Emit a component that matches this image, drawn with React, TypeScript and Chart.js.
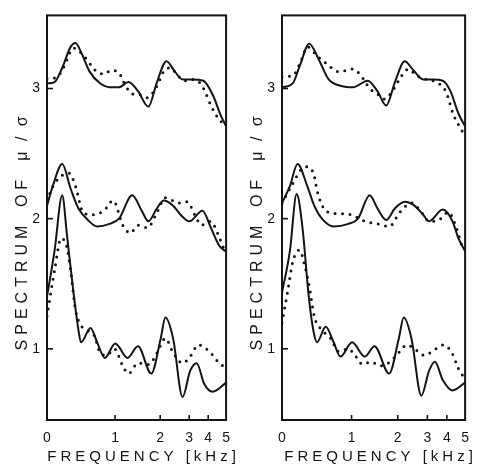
import React, { useEffect, useRef } from 'react';
import { Chart, registerables } from 'chart.js';

Chart.register(...registerables);

// x values are positions along the (warped) frequency axis, 0..100
const freqTickPositions = [0, 38, 63.2, 79.4, 90, 100];
const freqTickLabels = ['0', '1', '2', '3', '4', '5'];
const yTickValues = [1, 2, 3];
const xTitle = 'FREQUENCY [kHz]';
const yTitleParts = ['SPECTRUM', 'OF', 'μ / σ'];

type P = [number, number][];

// ---------- left panel ----------
const leftUpperSolid: P = [[0,3.04],[4.2,3.05],[8.5,3.16],[13.2,3.32],[15.9,3.35],[19,3.28],[23.8,3.13],[29.6,3.04],[34.9,3.01],[40.2,3.01],[45.5,3.05],[50.8,2.98],[56.6,2.86],[61.4,3.05],[66.7,3.21],[71.4,3.13],[75.7,3.07],[81,3.07],[87.3,3.06],[92.6,2.95],[96.8,2.8],[100,2.71]];
const leftUpperDotted: P = [[0,3.075],[5.8,3.09],[9.5,3.17],[14.8,3.31],[21.2,3.24],[27,3.14],[31.7,3.11],[36,3.14],[40.2,3.12],[43.9,3.02],[47.6,2.96],[52.9,2.95],[56.1,2.93],[61.4,3.02],[65.1,3.13],[68.8,3.16],[73,3.1],[77.2,3.06],[81,3.07],[85.2,3.045],[87.8,2.99],[91.5,2.87],[95.2,2.78],[99.5,2.71]];
const leftMiddleSolid: P = [[0,2.1],[3.2,2.25],[8.5,2.42],[13.2,2.23],[17.5,2.08],[22.8,1.99],[28,1.94],[34.9,1.96],[40.2,2.0],[47.6,2.18],[52.9,2.06],[56.6,1.98],[61.4,2.08],[65.1,2.14],[70.4,2.1],[74.6,2.03],[79.4,1.98],[86.8,2.06],[91.5,1.93],[95.8,1.8],[99.5,1.75]];
const leftMiddleDotted: P = [[0,2.14],[4.2,2.27],[12.2,2.35],[15.9,2.25],[20.1,2.05],[25.4,2.03],[31.7,2.06],[37,2.14],[42.3,1.95],[46.6,1.89],[50.8,1.95],[56.1,1.93],[60.8,2.03],[66.1,2.16],[74.1,2.12],[78.3,2.13],[82.5,2.03],[86.2,1.95],[91.5,1.98],[95.2,1.89],[98.4,1.78]];
const leftLowerSolid: P = [[0,1.4],[4.2,1.75],[8.5,2.18],[11.1,1.88],[14.8,1.43],[17.5,1.15],[19,1.05],[24.3,1.16],[28,1.05],[32.3,0.93],[38.1,1.04],[45,0.93],[50.8,1.02],[58.2,0.81],[63.5,1.08],[66.1,1.24],[70.4,1.08],[75.7,0.63],[79.9,0.83],[83.6,0.89],[87.8,0.73],[92.6,0.67],[100,0.74]];
const leftLowerDotted: P = [[0,1.25],[4.2,1.6],[7.9,1.85],[11.1,1.78],[13.2,1.6],[15.9,1.3],[19,1.18],[22.8,1.14],[26.5,1.1],[29.6,0.97],[33.3,0.95],[37.6,1.0],[42.3,0.87],[45.5,0.81],[50.8,0.89],[57.1,0.88],[61.4,0.97],[66.1,1.08],[70.4,0.97],[75.7,0.89],[79.4,0.93],[84.7,1.03],[88.9,1.0],[92.6,0.95],[96.8,0.88],[98.4,0.87]];

// ---------- right panel ----------
const rightUpperSolid: P = [[0,3.01],[5.9,3.04],[9.6,3.17],[14.9,3.345],[20.2,3.22],[25.5,3.07],[32.4,3.02],[38.8,3.01],[46.8,3.06],[52.1,2.98],[56.9,2.87],[61.7,3.05],[67,3.21],[71.8,3.14],[77.1,3.07],[82.4,3.07],[87.8,3.06],[92,2.98],[96.3,2.81],[100,2.71]];
const rightUpperDotted: P = [[0,3.09],[5.9,3.1],[10.6,3.22],[13.8,3.32],[19.1,3.25],[24.5,3.19],[30.9,3.13],[35.1,3.14],[38.8,3.15],[43.1,3.1],[47.9,3.0],[52.1,2.96],[55.9,2.92],[61.2,3.0],[65.4,3.1],[69.1,3.15],[73.4,3.1],[78.7,3.07],[84,3.05],[89.4,2.98],[93.6,2.8],[98.9,2.66]];
const rightMiddleSolid: P = [[0,2.12],[4.3,2.25],[8.5,2.42],[13.8,2.25],[17.6,2.1],[21.8,2.0],[28.2,1.94],[36.2,1.96],[41.5,2.0],[47.9,2.18],[52.1,2.08],[56.9,1.99],[61.7,2.08],[67,2.13],[72.3,2.1],[77.1,2.03],[80.3,1.98],[87.8,2.07],[93.1,1.98],[96.3,1.85],[100,1.75]];
const rightMiddleDotted: P = [[0,2.12],[5.9,2.27],[10.6,2.38],[13.8,2.4],[17.6,2.33],[19.1,2.22],[23.9,2.06],[29.3,2.04],[37.8,2.03],[45.2,1.98],[52.1,1.96],[58.5,1.94],[64.4,2.05],[70.7,2.12],[76.1,2.05],[80.3,1.98],[85.6,1.99],[91,2.05],[94.7,1.95],[98.9,1.76]];
const rightLowerSolid: P = [[0,1.43],[4.3,1.75],[8,2.19],[11.2,1.93],[14.4,1.43],[17,1.15],[19.1,1.05],[23.9,1.17],[28.2,1.05],[31.9,0.94],[38.3,1.05],[45.2,0.94],[50.5,1.02],[58.5,0.81],[63.8,1.08],[66.5,1.24],[70.7,1.08],[76.1,0.64],[80.3,0.83],[83.5,0.9],[87.8,0.76],[93.1,0.68],[100,0.74]];
const rightLowerDotted: P = [[0,1.2],[3.2,1.45],[5.9,1.67],[9.6,1.76],[12.2,1.65],[14.9,1.48],[17.6,1.25],[21.3,1.15],[26.6,1.08],[30.9,0.98],[36.2,1.0],[39.9,0.95],[44.1,0.88],[48.4,0.9],[53.7,0.87],[59,0.9],[64.4,0.98],[68.1,1.03],[73.4,0.99],[77.7,0.95],[83,0.99],[88.3,1.03],[93.1,0.96],[96.3,0.85],[98.9,0.79]];

const INK = '#141414';
const FONT = '"Liberation Sans", Arial, Helvetica, sans-serif';

function solid(d: P) {
  return {
    data: d.map(([x, y]) => ({ x, y })),
    borderColor: INK,
    borderWidth: 2,
    pointRadius: 0,
    fill: false,
    cubicInterpolationMode: 'monotone' as const,
  };
}
function dotted(d: P) {
  return {
    data: d.map(([x, y]) => ({ x, y })),
    borderColor: INK,
    borderWidth: 3,
    borderDash: [0, 7.5],
    borderCapStyle: 'round' as const,
    pointRadius: 0,
    fill: false,
    cubicInterpolationMode: 'monotone' as const,
  };
}

const decorPlugin = {
  id: 'decor',
  afterDraw(chart: any) {
    const { ctx, chartArea: a, scales } = chart;
    ctx.save();
    ctx.strokeStyle = INK;
    ctx.lineWidth = 2;
    ctx.strokeRect(a.left, a.top, a.right - a.left, a.bottom - a.top);
    ctx.lineWidth = 1.6;
    for (const p of freqTickPositions.slice(1, -1)) {
      const x = scales.x.getPixelForValue(p);
      ctx.beginPath();
      ctx.moveTo(x, a.bottom);
      ctx.lineTo(x, a.bottom - 5);
      ctx.stroke();
    }
    for (const v of yTickValues) {
      const y = scales.y.getPixelForValue(v);
      ctx.beginPath();
      ctx.moveTo(a.left, y);
      ctx.lineTo(a.left + 6, y);
      ctx.stroke();
    }
    ctx.fillStyle = INK;
    ctx.textAlign = 'center';
    ctx.textBaseline = 'middle';
    ctx.font = `15px ${FONT}`;
    (ctx as any).letterSpacing = '4px';
    ctx.fillText(xTitle, (a.left + a.right) / 2 + 7, 457);
    // vertical title
    const tx = a.left - 24;
    const centers = [287.5, 193, 139];
    ctx.font = `16px ${FONT}`;
    yTitleParts.forEach((t, i) => {
      ctx.save();
      ctx.translate(tx, centers[i]);
      ctx.rotate(-Math.PI / 2);
      (ctx as any).letterSpacing = i === 2 ? '3px' : '5px';
      ctx.fillText(t, 2, 0);
      ctx.restore();
    });
    ctx.restore();
  },
};

function makeConfig(sets: P[], rightPad: number, yWidth: number) {
  return {
    type: 'line' as const,
    data: {
      datasets: [
        solid(sets[0]), dotted(sets[1]),
        solid(sets[2]), dotted(sets[3]),
        solid(sets[4]), dotted(sets[5]),
      ],
    },
    options: {
      responsive: false,
      animation: false as const,
      layout: { padding: { top: 5, right: rightPad, left: 0, bottom: 0 } },
      plugins: { legend: { display: false }, tooltip: { enabled: false }, title: { display: false } },
      scales: {
        x: {
          type: 'linear' as const,
          min: 0,
          max: 100,
          grid: { display: false, drawTicks: false },
          border: { display: false },
          afterBuildTicks: (s: any) => { s.ticks = freqTickPositions.map((v) => ({ value: v })); },
          afterFit: (s: any) => { s.height = 47; },
          ticks: {
            autoSkip: false,
            maxRotation: 0,
            padding: 10,
            color: INK,
            font: { family: FONT, size: 14 },
            callback: (_v: any, i: number) => freqTickLabels[i],
          },
        },
        y: {
          type: 'linear' as const,
          min: 0.453,
          max: 3.562,
          grid: { display: false, drawTicks: false },
          border: { display: false },
          afterBuildTicks: (s: any) => { s.ticks = yTickValues.map((v) => ({ value: v })); },
          afterFit: (s: any) => { s.width = yWidth; },
          ticks: {
            padding: 7,
            color: INK,
            font: { family: FONT, size: 14 },
            callback: (v: any) => String(v),
          },
        },
      },
    },
    plugins: [decorPlugin],
  };
}

function Panel({ sets, width, rightPad, yWidth }: { sets: P[]; width: number; rightPad: number; yWidth: number }) {
  const ref = useRef<HTMLCanvasElement | null>(null);
  useEffect(() => {
    if (!ref.current) return;
    const chart = new Chart(ref.current, makeConfig(sets, rightPad, yWidth) as any);
    return () => chart.destroy();
  }, []);
  return <canvas ref={ref} width={width} height={467} style={{ display: 'block', width, height: 467 }} />;
}

export default function App() {
  return (
    <div style={{ position: 'absolute', left: 0, top: 0, width: 479, height: 467, background: '#fff', display: 'flex' }}>
      <Panel sets={[leftUpperSolid, leftUpperDotted, leftMiddleSolid, leftMiddleDotted, leftLowerSolid, leftLowerDotted]} width={240} rightPad={4} yWidth={47} />
      <Panel sets={[rightUpperSolid, rightUpperDotted, rightMiddleSolid, rightMiddleDotted, rightLowerSolid, rightLowerDotted]} width={239} rightPad={9} yWidth={42} />
    </div>
  );
}
